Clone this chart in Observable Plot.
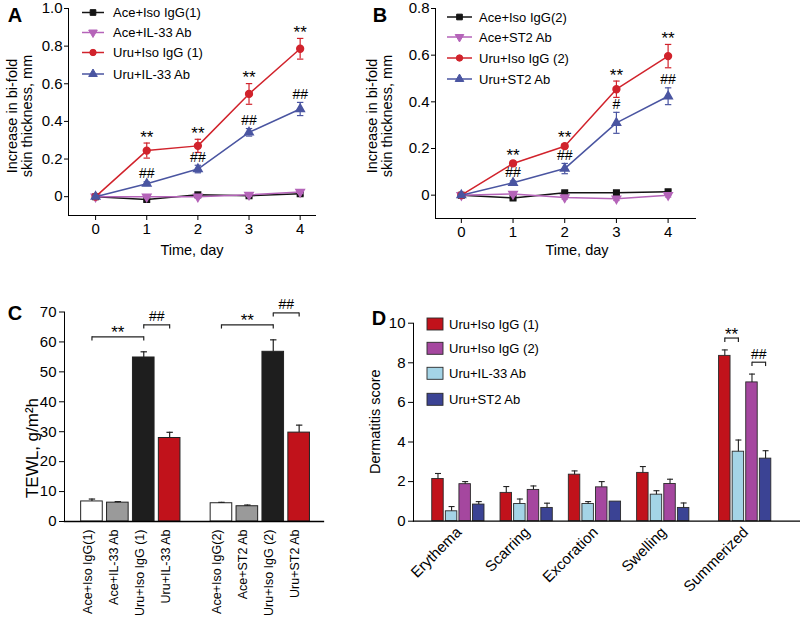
<!DOCTYPE html>
<html><head><meta charset="utf-8">
<script src="https://cdn.jsdelivr.net/npm/d3@7"></script>
<script src="https://cdn.jsdelivr.net/npm/@observablehq/plot@0.6"></script>
<style>
body{margin:0;background:#fff;}
#fig{position:relative;width:800px;height:617px;overflow:hidden;font-family:"Liberation Sans",Arial,sans-serif;}
.panel{position:absolute;}
</style></head><body><div id="fig"></div>
<script>
// ---------- DATA ----------
const days = [0, 1, 2, 3, 4];
// Panel A
const seriesA = ["Ace+Iso IgG(1)", "Ace+IL-33 Ab", "Uru+Iso IgG (1)", "Uru+IL-33 Ab"];
const aAceIso = [0, -0.015, 0.01, 0.005, 0.015];
const aAceIsoErr = [0.006, 0.008, 0.008, 0.007, 0.008];
const aAceIL33 = [0, 0, 0, 0.01, 0.025];
const aAceIL33Err = [0.006, 0.007, 0.008, 0.008, 0.007];
const aUruIso = [0, 0.245, 0.27, 0.546, 0.786];
const aUruIsoErr = [0.006, 0.04, 0.035, 0.055, 0.055];
const aUruIL33 = [0, 0.069, 0.147, 0.342, 0.466];
const aUruIL33Err = [0.005, 0.01, 0.02, 0.02, 0.035];
const aStars = ["", "**", "**", "**", "**"];
const aHashes = ["", "##", "##", "##", "##"];
// Panel B
const seriesB = ["Ace+Iso IgG(2)", "Ace+ST2 Ab", "Uru+Iso IgG (2)", "Uru+ST2 Ab"];
const bAceIso = [0, -0.012, 0.01, 0.01, 0.015];
const bAceIsoErr = [0.006, 0.008, 0.007, 0.008, 0.007];
const bAceST2 = [0, 0.005, -0.01, -0.015, 0];
const bAceST2Err = [0.006, 0.007, 0.007, 0.008, 0.008];
const bUruIso = [0, 0.136, 0.21, 0.454, 0.596];
const bUruIsoErr = [0.006, 0.01, 0.01, 0.035, 0.05];
const bUruST2 = [0, 0.053, 0.114, 0.31, 0.424];
const bUruST2Err = [0.005, 0.008, 0.022, 0.045, 0.036];
const bStars = ["", "**", "**", "**", "**"];
const bHashes = ["", "##", "##", "#", "##"];
// Panel C (TEWL)
const cCategories1 = ["Ace+Iso IgG(1)", "Ace+IL-33 Ab", "Uru+Iso IgG (1)", "Uru+IL-33 Ab"];
const cValues1 = [6.7, 6.3, 54.8, 27.9];
const cErr1 = [0.8, 0.35, 1.9, 1.9];
const cCategories2 = ["Ace+Iso IgG(2)", "Ace+ST2 Ab", "Uru+Iso IgG (2)", "Uru+ST2 Ab"];
const cValues2 = [6.1, 5.1, 56.7, 29.7];
const cErr2 = [0.3, 0.4, 4.0, 2.5];
const cTicks = [0, 10, 20, 30, 40, 50, 60, 70];
// Panel D (dermatitis score)
const dCategories = ["Erythema", "Scarring", "Excoration", "Swelling", "Summerized"];
const dSeries = ["Uru+Iso IgG (1)", "Uru+IL-33 Ab", "Uru+Iso IgG (2)", "Uru+ST2 Ab"];
const dLegendOrder = ["Uru+Iso IgG (1)", "Uru+Iso IgG (2)", "Uru+IL-33 Ab", "Uru+ST2 Ab"];
const dUruIso1 = [2.13, 1.43, 2.35, 2.44, 8.35];
const dUruIso1Err = [0.28, 0.32, 0.19, 0.32, 0.3];
const dUruIL33 = [0.5, 0.87, 0.87, 1.34, 3.51];
const dUruIL33Err = [0.24, 0.25, 0.12, 0.2, 0.59];
const dUruIso2 = [1.87, 1.58, 1.71, 1.88, 7.01];
const dUruIso2Err = [0.13, 0.2, 0.29, 0.24, 0.42];
const dUruST2 = [0.84, 0.67, 0.99, 0.67, 3.16];
const dUruST2Err = [0.15, 0.24, 0.0, 0.25, 0.4];
const dTicks = [0, 2, 4, 6, 8, 10];

// ---------- STYLE ----------
const FONT = '"Liberation Sans", Arial, sans-serif';
const TICK_FONT = 15;
const lineColors = ["#141414", "#b564b9", "#d1232c", "#4a55a1"];
const lineSymbols = ["square", "triangle", "circle", "triangle"];
const cFills = ["#ffffff", "#9a9a9a", "#1e1e1e", "#c1121b"];
const dColors = {"Uru+Iso IgG (1)": "#c1121b", "Uru+IL-33 Ab": "#a4d4e6", "Uru+Iso IgG (2)": "#a5479f", "Uru+ST2 Ab": "#3b4394"};
const cap = {draw(ctx, size) { const r = Math.sqrt(size / Math.PI); ctx.moveTo(-r, 0); ctx.lineTo(r, 0); }};
const fig = document.getElementById("fig");
const baseStyle = {fontFamily: FONT, fontSize: "14px", color: "#000", background: "transparent", overflow: "visible"};

function place(svg, left, top) {
  const div = document.createElement("div");
  div.className = "panel"; div.style.left = left + "px"; div.style.top = top + "px";
  div.appendChild(svg); fig.appendChild(div);
  return d3.select(svg);
}
function addText(sel, x, y, txt, o = {}) {
  const t = sel.append("text").attr("x", x).attr("y", y).text(txt)
    .attr("font-family", FONT).attr("font-size", o.size || 14).attr("fill", "#000")
    .attr("text-anchor", o.anchor || "middle");
  if (o.weight) t.attr("font-weight", o.weight);
  if (o.rotate) t.attr("transform", `rotate(${o.rotate},${x},${y})`);
  if (o.baseline) t.attr("dominant-baseline", o.baseline);
  return t;
}

// ---------- LINE PANELS (A, B) ----------
function linePanel(o) {
  const rows = [];
  o.values.forEach((vals, k) => vals.forEach((v, i) => rows.push({k, i, day: days[i], v, e: o.errs[k][i]})));
  const marks = [
    Plot.frame({anchor: "left", stroke: "#000"}),
    Plot.frame({anchor: "bottom", stroke: "#000"}),
    Plot.axisY({ticks: o.yTicks, tickSize: 4, tickPadding: 2, tickFormat: d => d === 0 ? "0" : d3.format(".1f")(d), label: null, fontSize: TICK_FONT}),
    Plot.axisX({ticks: days, tickSize: 5, tickPadding: 3, tickFormat: d => String(d), label: null, fontSize: TICK_FONT})
  ];
  for (let k = 0; k < 4; k++) {
    const r = rows.filter(d => d.k === k);
    const c = lineColors[k];
    marks.push(Plot.ruleX(r, {x: "day", y1: d => d.v - d.e, y2: d => d.v + d.e, stroke: c, strokeWidth: 1.2}));
    marks.push(Plot.dot(r, {x: "day", y: d => d.v + d.e, symbol: cap, r: 3.2, stroke: c, fill: "none", strokeWidth: 1.2}));
    marks.push(Plot.dot(r, {x: "day", y: d => d.v - d.e, symbol: cap, r: 3.2, stroke: c, fill: "none", strokeWidth: 1.2}));
    marks.push(Plot.line(r, {x: "day", y: "v", stroke: c, strokeWidth: 1.5}));
    marks.push(Plot.dot(r, {x: "day", y: "v", symbol: lineSymbols[k], rotate: k === 1 ? 180 : 0, fill: c, stroke: c, r: k === 2 ? 3.4 : 3.1}));
  }
  const red = rows.filter(d => d.k === 2), blue = rows.filter(d => d.k === 3);
  marks.push(Plot.text(red, {x: "day", y: d => d.v + d.e, text: d => o.stars[d.i], dy: -6, fontSize: 17, fill: "#000"}));
  marks.push(Plot.text(blue, {x: "day", y: d => d.v + d.e, text: d => o.hashes[d.i], dy: -8, fontSize: 14, fill: "#000"}));
  return Plot.plot({
    width: o.width, height: 300, marginLeft: o.ml, marginRight: o.mr, marginTop: 8, marginBottom: o.mb,
    x: {domain: o.xDomain}, y: {domain: o.yDomain}, style: baseStyle, marks
  });
}
function lineLegend(sel, names, lx1, lx2, tx, ys) {
  names.forEach((n, k) => {
    const y = ys[k], c = lineColors[k], cx = (lx1 + lx2) / 2;
    sel.append("line").attr("x1", lx1).attr("x2", lx2).attr("y1", y).attr("y2", y).attr("stroke", c).attr("stroke-width", 1.5);
    const sym = d3.symbol().type([d3.symbolSquare, d3.symbolTriangle, d3.symbolCircle, d3.symbolTriangle][k]).size(3.2 * 3.2 * Math.PI)();
    sel.append("path").attr("d", sym).attr("fill", c).attr("stroke", c)
      .attr("transform", `translate(${cx},${y})` + (k === 1 ? " rotate(180)" : ""));
    addText(sel, tx, y, n, {size: 13, anchor: "start", baseline: "central"});
  });
}

// Panel A
const svgA = place(linePanel({
  values: [aAceIso, aAceIL33, aUruIso, aUruIL33], errs: [aAceIsoErr, aAceIL33Err, aUruIsoErr, aUruIL33Err],
  stars: aStars, hashes: aHashes, width: 340, ml: 68, mr: 25, mb: 85,
  xDomain: [-0.53, 4.3], yDomain: [-0.1, 1.0], yTicks: [0, 0.2, 0.4, 0.6, 0.8, 1.0]
}), 0, 0);
lineLegend(svgA, seriesA, 82, 104, 113, [12.5, 32.5, 52.5, 74]);
addText(svgA, 192, 255, "Time, day", {size: 14.5});
addText(svgA, 16.5, 116, "Increase in bi-fold", {size: 14.5, rotate: -90});
addText(svgA, 31.5, 116, "skin thickness, mm", {size: 14.5, rotate: -90});
addText(svgA, 15, 22, "A", {size: 20, weight: "bold"});

// Panel B
const svgB = place(linePanel({
  values: [bAceIso, bAceST2, bUruIso, bUruST2], errs: [bAceIsoErr, bAceST2Err, bUruIsoErr, bUruST2Err],
  stars: bStars, hashes: bHashes, width: 460, ml: 95, mr: 105, mb: 82,
  xDomain: [-0.5, 4.53], yDomain: [-0.1, 0.8], yTicks: [0, 0.2, 0.4, 0.6, 0.8]
}), 340, 0);
lineLegend(svgB, seriesB, 107, 132, 139, [17, 37, 58, 79]);
addText(svgB, 237, 255, "Time, day", {size: 14.5});
addText(svgB, 36.5, 116, "Increase in bi-fold", {size: 14.5, rotate: -90});
addText(svgB, 52, 116, "skin thickness, mm", {size: 14.5, rotate: -90});
addText(svgB, 40, 22, "B", {size: 20, weight: "bold"});

// ---------- PANEL C ----------
{
  const rows = [];
  [[cCategories1, cValues1, cErr1, 0], [cCategories2, cValues2, cErr2, 5]].forEach(([cats, vals, errs, start]) =>
    cats.forEach((c, j) => rows.push({name: c, slot: start + j, j, v: vals[j], e: errs[j]})));
  const hw = 0.417;
  const brackets = [];
  [0, 5].forEach(start => {
    const g = rows.filter(d => d.slot >= start && d.slot < start + 4);
    const top = d3.max(g, d => d.v + d.e);
    brackets.push({a: start, b: start + 2, y: top + 5, label: "**"});
    brackets.push({a: start + 2, b: start + 3, y: top + 9, label: "##"});
  });
  const drop = 1.4;
  const svgC = place(Plot.plot({
    width: 340, height: 317, marginLeft: 64, marginRight: 17, marginTop: 11.5, marginBottom: 96,
    x: {domain: [-1.06, 8.94], axis: null}, y: {domain: [0, 70]}, style: baseStyle,
    marks: [
      Plot.axisY({ticks: cTicks, tickSize: 5, tickPadding: 3, label: null, fontSize: TICK_FONT}),
      Plot.rectY(rows, {x1: d => d.slot - hw, x2: d => d.slot + hw, y: "v", fill: d => cFills[d.j], stroke: "#222", strokeWidth: 1}),
      Plot.ruleX(rows, {x: "slot", y1: "v", y2: d => d.v + d.e, stroke: "#222", strokeWidth: 1.2}),
      Plot.dot(rows, {x: "slot", y: d => d.v + d.e, symbol: cap, r: 3.2, stroke: "#222", fill: "none", strokeWidth: 1.2}),
      Plot.frame({anchor: "left", stroke: "#000"}),
      Plot.frame({anchor: "bottom", stroke: "#000", strokeWidth: 1.3}),
      Plot.link(brackets, {x1: "a", x2: "b", y1: "y", y2: "y", stroke: "#222", strokeWidth: 1.2}),
      Plot.ruleX(brackets, {x: "a", y1: d => d.y - drop, y2: "y", stroke: "#222", strokeWidth: 1.2}),
      Plot.ruleX(brackets, {x: "b", y1: d => d.y - drop, y2: "y", stroke: "#222", strokeWidth: 1.2}),
      Plot.text(brackets.filter(d => d.label === "**"), {x: d => (d.a + d.b) / 2, y: "y", text: "label", dy: -4, fontSize: 17}),
      Plot.text(brackets.filter(d => d.label === "##"), {x: d => (d.a + d.b) / 2, y: "y", text: "label", dy: -8, fontSize: 14}),
      Plot.text(rows, {x: "slot", frameAnchor: "bottom", text: "name", rotate: -90, textAnchor: "end", dy: 8, fontSize: 12.5})
    ]
  }), 0, 300);
  addText(svgC, 37.5, 148, "TEWL, g/m²h", {size: 17, rotate: -90});
  addText(svgC, 15, 20, "C", {size: 20, weight: "bold"});
}

// ---------- PANEL D ----------
{
  const vals = [dUruIso1, dUruIL33, dUruIso2, dUruST2];
  const errs = [dUruIso1Err, dUruIL33Err, dUruIso2Err, dUruST2Err];
  const GAP = 0.2, STEP = 0.199, HW = 0.084;
  const gpos = i => i + (i === dCategories.length - 1 ? GAP : 0);
  const rows = [];
  dSeries.forEach((s, j) => dCategories.forEach((c, i) => rows.push({s, j, i, cx: gpos(i) + (j - 1.5) * STEP, v: vals[j][i], e: errs[j][i]})));
  const last = dCategories.length - 1;
  const brackets = [];
  const sumRows = rows.filter(d => d.i === last);
  [[0, 1, "**"], [2, 3, "##"]].forEach(([a, b, label]) => {
    const ra = sumRows.find(d => d.j === a), rb = sumRows.find(d => d.j === b);
    brackets.push({a: ra.cx, b: rb.cx, y: Math.max(ra.v + ra.e, rb.v + rb.e) + 0.6, label});
  });
  const drop = 0.22;
  const labels = dCategories.map((c, i) => ({c, x: gpos(i)}));
  const svgD = place(Plot.plot({
    width: 460, height: 317, marginLeft: 73, marginRight: 0, marginTop: 22.7, marginBottom: 96.3,
    x: {domain: [-0.657, 5.01], axis: null}, y: {domain: [0, 10]}, style: baseStyle,
    marks: [
      Plot.axisY({ticks: dTicks, tickSize: 5, tickPadding: 3, label: null, fontSize: TICK_FONT}),
      Plot.rectY(rows, {x1: d => d.cx - HW, x2: d => d.cx + HW, y: "v", fill: d => dColors[d.s], stroke: "#2a2a2a", strokeWidth: 0.9}),
      Plot.ruleX(rows.filter(d => d.e > 0), {x: "cx", y1: "v", y2: d => d.v + d.e, stroke: "#222", strokeWidth: 1.1}),
      Plot.dot(rows.filter(d => d.e > 0), {x: "cx", y: d => d.v + d.e, symbol: cap, r: 3, stroke: "#222", fill: "none", strokeWidth: 1.1}),
      Plot.frame({anchor: "left", stroke: "#000"}),
      Plot.frame({anchor: "bottom", stroke: "#000", strokeWidth: 1.3}),
      Plot.link(brackets, {x1: "a", x2: "b", y1: "y", y2: "y", stroke: "#222", strokeWidth: 1.2}),
      Plot.ruleX(brackets, {x: "a", y1: d => d.y - drop, y2: "y", stroke: "#222", strokeWidth: 1.2}),
      Plot.ruleX(brackets, {x: "b", y1: d => d.y - drop, y2: "y", stroke: "#222", strokeWidth: 1.2}),
      Plot.text(brackets.filter(d => d.label === "**"), {x: d => (d.a + d.b) / 2, y: "y", text: "label", dy: -4, fontSize: 17}),
      Plot.text(brackets.filter(d => d.label === "##"), {x: d => (d.a + d.b) / 2, y: "y", text: "label", dy: -8, fontSize: 14}),
      Plot.text(labels, {x: "x", frameAnchor: "bottom", text: "c", rotate: -45, textAnchor: "end", dx: 4, dy: 12, fontSize: 15})
    ]
  }), 340, 300);
  dLegendOrder.forEach((n, k) => {
    const y = [24, 48.3, 73.3, 99.3][k];
    svgD.append("rect").attr("x", 87).attr("y", y - 6).attr("width", 16).attr("height", 12)
      .attr("fill", dColors[n]).attr("stroke", "#2a2a2a").attr("stroke-width", 0.9);
    addText(svgD, 109, y, n, {size: 13, anchor: "start", baseline: "central"});
  });
  addText(svgD, 40, 121.7, "Dermatitis score", {size: 14.5, rotate: -90});
  addText(svgD, 39, 25, "D", {size: 20, weight: "bold"});
}
</script></body></html>
